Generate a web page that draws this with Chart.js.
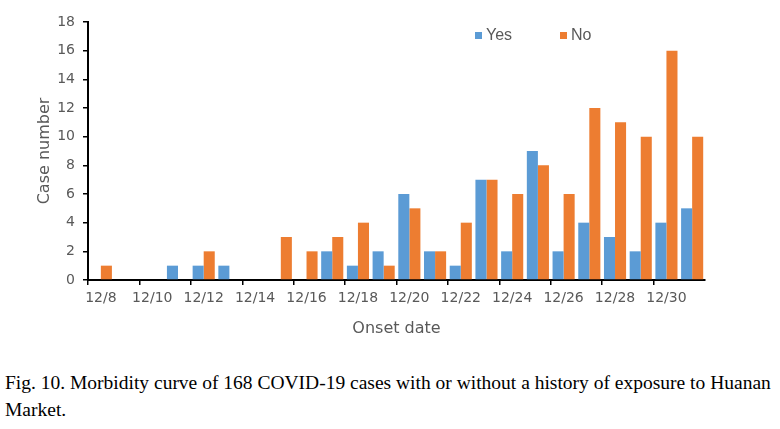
<!DOCTYPE html>
<html>
<head>
<meta charset="utf-8">
<script src="https://cdn.jsdelivr.net/npm/chart.js@4"></script>
<style>
  body { margin: 0; background: #fff; width: 780px; height: 429px; position: relative; overflow: hidden; }
  #wrap { position: absolute; left: 0; top: 0; width: 780px; height: 345px; }
  #caption { position: absolute; left: 5px; top: 369px; width: 775px; font-family: "Liberation Serif", "Times New Roman", serif; font-size: 19.5px; line-height: 27px; color: #000; }
</style>
</head>
<body>
<div id="wrap"><canvas id="morbidityChart"></canvas></div>
<div id="caption">Fig. 10. Morbidity curve of 168 COVID-19 cases with or without a history of exposure to Huanan Market.</div>
<script>
// Onset dates, 12/8 to 12/31
const onsetDates = ['12/8', '12/9', '12/10', '12/11', '12/12', '12/13', '12/14', '12/15',
    '12/16', '12/17', '12/18', '12/19', '12/20', '12/21', '12/22', '12/23',
    '12/24', '12/25', '12/26', '12/27', '12/28', '12/29', '12/30', '12/31'];
// exposure to Huanan Market
const yesCases = [0, 0, 0, 1, 1, 1, 0, 0, 0, 2, 1, 2, 6, 2, 1, 7, 2, 9, 2, 4, 3, 2, 4, 5];
const noCases  = [1, 0, 0, 0, 2, 0, 0, 3, 2, 3, 4, 1, 5, 2, 4, 7, 6, 8, 6, 12, 11, 10, 16, 10];
const yTicks = [0, 2, 4, 6, 8, 10, 12, 14, 16, 18];

const textColor = '#595959';

// legend drawn by hand, Excel puts it up right inside the plot
const legendPlugin = {
    id: 'excelLegend',
    afterDraw(chart) {
        const ctx = chart.ctx;
        const spots = [475, 560];
        ctx.save();
        ctx.font = '16px "Liberation Sans", Arial, sans-serif';
        ctx.textBaseline = 'middle';
        chart.data.datasets.forEach(function (ds, i) {
            const x = spots[i];
            ctx.fillStyle = ds.backgroundColor;
            ctx.fillRect(x, 32, 7, 7);
            ctx.fillStyle = textColor;
            ctx.fillText(ds.label, x + 11, 36);
        });
        ctx.restore();
    }
};

const ctx = document.getElementById('morbidityChart').getContext('2d');
new Chart(ctx, {
    type: 'bar',
    data: {
        labels: onsetDates,
        datasets: [{
            label: 'Yes',
            data: yesCases,
            backgroundColor: '#5B9BD5'
        }, {
            label: 'No',
            data: noCases,
            backgroundColor: '#ED7D31'
        }]
    },
    options: {
        responsive: true,
        maintainAspectRatio: false,
        animation: false,
        layout: { padding: { top: 22, right: 75, left: 0, bottom: 0 } },
        datasets: { bar: { categoryPercentage: 0.86, barPercentage: 1.0 } },
        plugins: {
            legend: { display: false },
            tooltip: { enabled: false }
        },
        scales: {
            x: {
                afterFit: function (scale) { scale.height = 65; },
                grid: {
                    offset: true,
                    drawOnChartArea: false,
                    tickLength: 5,
                    lineWidth: 1.5,
                    color: function (c) { return c.index % 2 === 0 ? '#000' : 'rgba(0,0,0,0)'; }
                },
                border: { color: '#000', width: 2 },
                ticks: {
                    autoSkip: false,
                    maxRotation: 0,
                    padding: 5,
                    color: textColor,
                    font: { family: '"DejaVu Sans", sans-serif', size: 14 },
                    callback: function (v, i) { return i % 2 === 0 ? onsetDates[i] : ''; }
                },
                title: {
                    display: true,
                    text: 'Onset date',
                    color: textColor,
                    font: { family: '"DejaVu Sans", sans-serif', size: 16 },
                    padding: { top: 0, bottom: 7 }
                }
            },
            y: {
                min: 0,
                max: 18,
                afterFit: function (scale) { scale.width = 88; },
                afterBuildTicks: function (scale) {
                    scale.ticks = yTicks.map(function (v) { return { value: v }; });
                },
                grid: {
                    drawOnChartArea: false,
                    tickLength: 5,
                    lineWidth: 1.5,
                    color: '#000'
                },
                border: { color: '#000', width: 2 },
                ticks: {
                    padding: 8,
                    color: textColor,
                    font: { family: '"DejaVu Sans", sans-serif', size: 14 }
                },
                title: {
                    display: true,
                    text: 'Case number',
                    color: textColor,
                    font: { family: '"DejaVu Sans", sans-serif', size: 16 },
                    padding: { top: 35, bottom: 0 }
                }
            }
        }
    },
    plugins: [legendPlugin]
});
</script>
</body>
</html>
